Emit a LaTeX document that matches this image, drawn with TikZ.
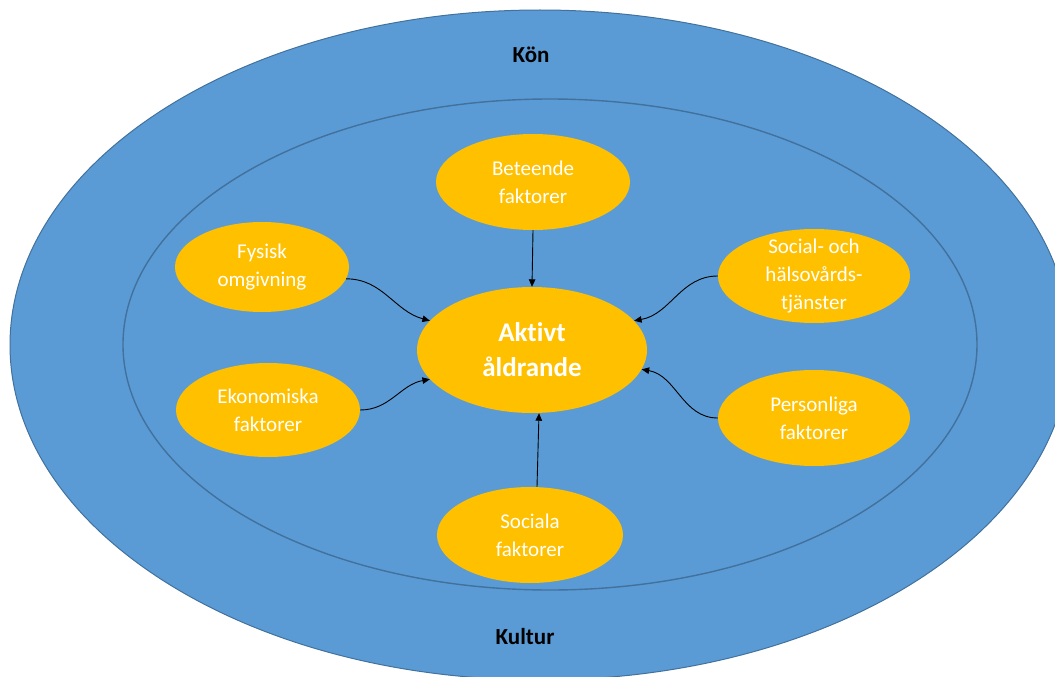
\documentclass[tikz,border=0pt]{standalone}
\usepackage{fontspec}
\setmainfont{Carlito}[Ligatures=NoCommon]
\usetikzlibrary{shapes.geometric,arrows.meta}
\definecolor{havsbla}{HTML}{5B9BD5}
\definecolor{kantbla}{HTML}{41719C}
\definecolor{gul}{HTML}{FFC000}
\begin{document}
\begin{tikzpicture}[x=1pt, y=-1pt,
		faktor/.style={ellipse, fill=gul, inner sep=0pt},
		faktortext/.style={text=white, align=center, font=\fontsize{21}{28}\selectfont},
		rubrik/.style={font=\fontsize{23}{28}\selectfont\bfseries},
		pil/.style={->, >={Triangle[length=7.5pt, width=6.5pt]}, line width=0.9pt}]
					\useasboundingbox (0,0) rectangle (1055,677);
					\clip (0,0) rectangle (1055,677);
					% Yttre och inre ring
					\filldraw[fill=havsbla, draw=kantbla, line width=1pt] (540,345) ellipse [x radius=530pt, y radius=335pt];
					\draw[kantbla, line width=1.4pt] (550,344.5) ellipse [x radius=427pt, y radius=245.5pt];
					\node[rubrik] (kon) at (531,55) {Kön};
					\node[rubrik] (kultur) at (525,637) {Kultur};
					\node[faktor, minimum width=230pt, minimum height=126pt,
						label={[text=white, align=center, font=\fontsize{27}{35}\selectfont\bfseries]center:Aktivt\\åldrande}] (aktivt) at (532,350) {};
					\node[faktor, minimum width=194pt, minimum height=96pt, label={[faktortext]center:Beteende\\faktorer}] (beteende) at (533,182) {};
					\node[faktor, minimum width=174pt, minimum height=90pt, label={[faktortext]center:Fysisk\\omgivning}] (fysisk) at (262,267) {};
					\node[faktor, minimum width=192pt, minimum height=94pt, label={[faktortext]center:Social- och\\hälsovårds-\\tjänster}] (social) at (814,276) {};
					\node[faktor, minimum width=184pt, minimum height=94pt, label={[faktortext]center:Ekonomiska\\faktorer}] (ekonomi) at (268,410) {};
					\node[faktor, minimum width=192pt, minimum height=96pt, label={[faktortext]center:Personliga\\faktorer}] (personlig) at (814,418) {};
					\node[faktor, minimum width=186pt, minimum height=96pt, label={[faktortext]center:Sociala\\faktorer}] (sociala) at (530,535) {};
					% Pilar in mot mitten
					\draw[pil] (beteende.south) -- (aktivt.north);
					\draw[pil] ([xshift=7pt]sociala.north) -- ([xshift=7pt]aktivt.south);
					\draw[pil] (fysisk.-8) to[out=0, in=165] (aktivt.164);
					\draw[pil] (ekonomi.east) to[out=0, in=190] (aktivt.196);
					\draw[pil] (social.west) to[out=180, in=10] (aktivt.16);
					\draw[pil] (personlig.west) to[out=180, in=-10] (aktivt.-10);
		\end{tikzpicture}
\end{document}
